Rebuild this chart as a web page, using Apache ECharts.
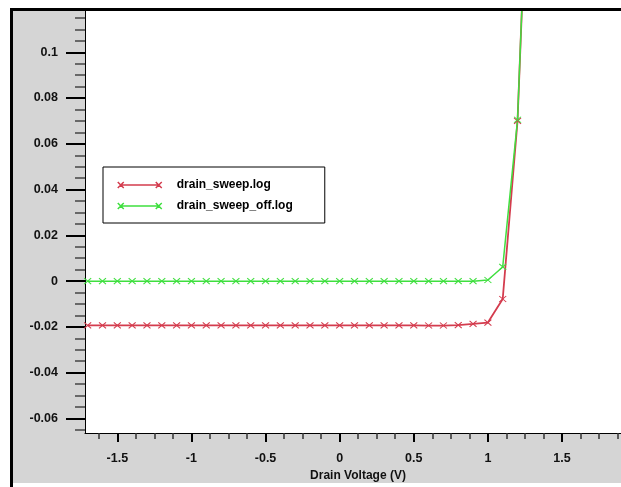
<!DOCTYPE html>
<html>
<head>
<meta charset="utf-8">
<script src="https://cdn.jsdelivr.net/npm/echarts@6/dist/echarts.min.js"></script>
<style>
  html, body { margin: 0; padding: 0; background: #fff; }
  #chart { width: 621px; height: 487px; }
</style>
</head>
<body>
<div id="chart"></div>
<script>
// Drain sweep: drain current vs drain voltage, two runs
const voltage = [-1.7, -1.6, -1.5, -1.4, -1.3, -1.2, -1.1, -1.0, -0.9, -0.8,
                 -0.7, -0.6, -0.5, -0.4, -0.3, -0.2, -0.1, 0.0, 0.1, 0.2,
                 0.3, 0.4, 0.5, 0.6, 0.7, 0.8, 0.9, 1.0, 1.1, 1.2, 1.3];

const drainSweep = [-0.0193, -0.0193, -0.0193, -0.0193, -0.0193, -0.0193, -0.0193, -0.0193, -0.0193, -0.0193,
                    -0.0193, -0.0193, -0.0193, -0.0193, -0.0193, -0.0193, -0.0193, -0.0193, -0.0193, -0.0193,
                    -0.0193, -0.0193, -0.0193, -0.0194, -0.0194, -0.0192, -0.0187, -0.0181, -0.0078, 0.0700, 0.236];

const drainSweepOff = [0.0, 0.0, 0.0, 0.0, 0.0, 0.0, 0.0, 0.0, 0.0, 0.0,
                       0.0, 0.0, 0.0, 0.0, 0.0, 0.0, 0.0, 0.0, 0.0, 0.0,
                       0.0, 0.0, 0.0, 0.0, 0.0, 0.0, 0.0, 0.0005, 0.0062, 0.0705, 0.237];

const seriesNames = ['drain_sweep.log', 'drain_sweep_off.log'];
const seriesColors = ['#d43c4e', '#3fdf3f'];

const xTickValues = [-1.5, -1, -0.5, 0, 0.5, 1, 1.5];
const yTickValues = [-0.06, -0.04, -0.02, 0, 0.02, 0.04, 0.06, 0.08, 0.1, 0.12];

const FONT = 'Liberation Sans';
const crossSymbol = 'path://M0,0L8,7M0,7L8,0';
const legendIcon = 'path://M0,0L6,6M0,6L6,0M3,3L41,3M38,0L44,6M38,6L44,0';

function pairs(xs, ys) {
  return xs.map((x, i) => [x, ys[i]]);
}

const chart = echarts.init(document.getElementById('chart'), null, { renderer: 'canvas' });

const tickLabel = {
  fontFamily: FONT,
  fontWeight: 'bold',
  fontSize: 12.5,
  color: '#111'
};

chart.setOption({
  animation: false,
  backgroundColor: '#fff',
  grid: {
    show: true,
    left: 85,
    right: 0,
    top: 5.9,
    bottom: 51.5,
    backgroundColor: '#fff',
    borderWidth: 0
  },
  xAxis: {
    type: 'value',
    min: -1.718,
    max: 1.898,
    splitNumber: 7,
    minInterval: 0.5,
    maxInterval: 0.5,
    axisLine: { show: true, onZero: false, lineStyle: { color: '#000', width: 1 } },
    axisTick: { show: true, customValues: xTickValues, length: 9, lineStyle: { color: '#000', width: 2 } },
    minorTick: { show: true, splitNumber: 4, length: 6, lineStyle: { color: '#333', width: 1.5 } },
    axisLabel: Object.assign({ customValues: xTickValues, margin: 19 }, tickLabel),
    splitLine: { show: false },
    name: 'Drain Voltage (V)',
    nameLocation: 'middle',
    nameGap: 32,
    nameTextStyle: {
      fontFamily: FONT,
      fontWeight: 'bold',
      fontSize: 12,
      color: '#111',
      padding: [0, 0, 0, 10]
    }
  },
  yAxis: {
    type: 'value',
    min: -0.0664,
    max: 0.12,
    splitNumber: 9,
    minInterval: 0.02,
    maxInterval: 0.02,
    axisLine: { show: true, onZero: false, lineStyle: { color: '#000', width: 1 } },
    axisTick: { show: true, customValues: yTickValues, length: 19, lineStyle: { color: '#000', width: 2 } },
    minorTick: { show: true, splitNumber: 4, length: 10, lineStyle: { color: '#444', width: 1.5 } },
    axisLabel: Object.assign({ customValues: yTickValues, margin: 27, padding: [5, 0, 0, 0] }, tickLabel),
    splitLine: { show: false }
  },
  legend: {
    orient: 'vertical',
    left: 103,
    top: 167,
    itemWidth: 44,
    itemHeight: 6,
    itemGap: 9,
    padding: [12, 32, 11, 14],
    backgroundColor: '#fff',
    borderColor: '#000',
    borderWidth: 1,
    selectedMode: false,
    textStyle: {
      fontFamily: FONT,
      fontWeight: 'bold',
      fontSize: 12,
      color: '#000',
      padding: [0, 0, 0, 10]
    },
    data: seriesNames.map((name, i) => ({
      name: name,
      icon: legendIcon,
      itemStyle: { color: 'transparent', borderColor: seriesColors[i], borderWidth: 1.5 }
    }))
  },
  series: [
    {
      name: seriesNames[0],
      type: 'line',
      data: pairs(voltage, drainSweep),
      symbol: crossSymbol,
      symbolSize: [7, 6],
      showSymbol: true,
      color: seriesColors[0],
      itemStyle: { color: seriesColors[0], borderColor: seriesColors[0], borderWidth: 1 },
      lineStyle: { color: seriesColors[0], width: 1.8 },
      emphasis: { disabled: true }
    },
    {
      name: seriesNames[1],
      type: 'line',
      data: pairs(voltage, drainSweepOff),
      symbol: crossSymbol,
      symbolSize: [7, 6],
      showSymbol: true,
      color: seriesColors[1],
      itemStyle: { color: seriesColors[1], borderColor: seriesColors[1], borderWidth: 1 },
      lineStyle: { color: seriesColors[1], width: 1.5 },
      emphasis: { disabled: true }
    }
  ],
  graphic: [
    // grey window panel behind the plot
    { type: 'rect', z: -10, silent: true, shape: { x: 13, y: 11, width: 608, height: 472 }, style: { fill: '#d5d5d5' } },
    // white margin and black window frame on top
    { type: 'rect', z: 100, silent: true, shape: { x: 0, y: 0, width: 621, height: 8 }, style: { fill: '#fff' } },
    { type: 'rect', z: 100, silent: true, shape: { x: 10, y: 8, width: 611, height: 3 }, style: { fill: '#000' } },
    { type: 'rect', z: 100, silent: true, shape: { x: 10, y: 8, width: 3, height: 479 }, style: { fill: '#000' } }
  ]
});
</script>
</body>
</html>
